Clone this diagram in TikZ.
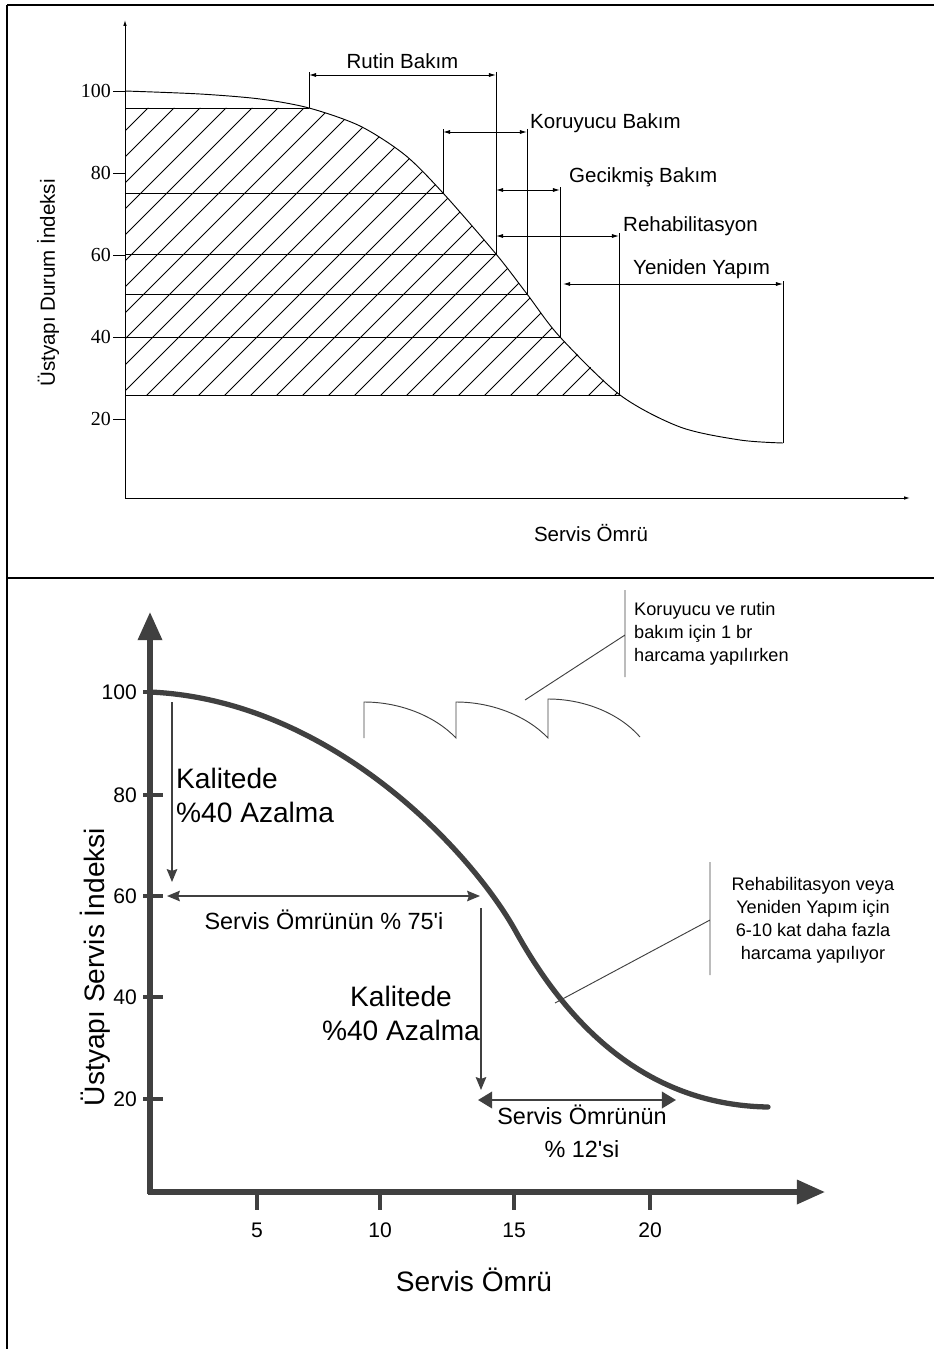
\documentclass[tikz,border=0pt]{standalone}
\usepackage{fontspec}
\setmainfont{Liberation Sans}
\newfontfamily\timesnum{Liberation Serif}
\usetikzlibrary{
	arrows.meta,
	positioning
}
\definecolor{plotgray}{HTML}{404040}

\begin{document}
\begin{tikzpicture}[x=0.03cm,y=-0.03cm,
		frame/.style={line width=2pt},
		thin/.style={line width=0.8pt},
		dim/.style={thin,{Latex[length=6pt,width=3.5pt]}-{Latex[length=6pt,width=3.5pt]}},
		toplabel/.style={font=\fontsize{17.5}{21}\selectfont,inner sep=0pt},
		topnum/.style={font=\timesnum\fontsize{17}{20}\selectfont,inner sep=0pt,anchor=east},
		bigaxis/.style={plotgray,line width=4.5pt,-{Triangle[length=24pt,width=20pt]}},
		tick/.style={plotgray,line width=3.5pt},
		ticklabel/.style={font=\fontsize{18}{21}\selectfont,inner sep=0pt},
		note/.style={plotgray,line width=1.2pt,-{Stealth[length=11pt,width=9pt,inset=1.5pt]}},
		twonote/.style={note,{Stealth[length=11pt,width=9pt,inset=1.5pt]}-{Stealth[length=11pt,width=9pt,inset=1.5pt]}},
		bigtext/.style={font=\fontsize{24}{29}\selectfont,inner sep=0pt},
		midtext/.style={font=\fontsize{20}{24}\selectfont,inner sep=0pt},
		callout/.style={font=\fontsize{15.5}{19.6}\selectfont,inner sep=0pt}
	]
	\useasboundingbox (0,0) rectangle (934,1349);
	\draw[frame] (7,5) -- (934,5);
	\draw[line width=1.2pt] (7,5) -- (7,1349);
	\draw[frame] (7,578) -- (934,578);

	% upper chart
	\begin{scope}
		\clip (125,108) -- plot[smooth] coordinates {(309,108) (360,126) (405,155) (443,193) (496,254) (527,294) (560,337) (620,395)} -- (125,395) -- cycle;
		\foreach \a in {-170,-144,...,640}
			\draw[thin] (\a,400) -- ++(300,-300);
	\end{scope}
	\draw[thin] plot[smooth] coordinates {(125,91) (200,94) (260,99) (309,108) (360,126) (405,155) (443,193) (496,254) (527,294) (560,337) (620,395) (680,427) (740,440) (783,443)};
	\foreach \y/\x in {108/309,193/443,254/496,294/527,337/560,395/620}
		\draw[thin] (125,\y) -- (\x,\y);
	\draw[thin,-{Latex[length=5pt,width=3pt]}] (125,498) -- (125,20);
	\draw[thin,-{Latex[length=5pt,width=3pt]}] (125,498) -- (910,498);
	\foreach \v/\y in {100/91,80/173,60/255,40/337,20/419} {
		\draw[thin] (113,\y) -- (125,\y);
		\node[topnum] (tn\v) at (111,\y) {\v};
	}
	\node[toplabel,rotate=90] (toplab) at (48,283) {Üstyapı Durum İndeksi};
	\node[toplabel] (topx) at (591,533) {Servis Ömrü};

	\draw[thin] (309,108) -- (309,72) (496,72) -- (496,254);
	\draw[dim] (309,75) -- node[toplabel,above=5pt] (rutin) {Rutin Bakım} (496,75);
	\draw[thin] (443,193) -- (443,129) (527,129) -- (527,294);
	\draw[dim] (443,132) -- (527,132);
	\node[toplabel,anchor=west] (koru) at (530,123) {Koruyucu Bakım};
	\draw[thin] (560,187) -- (560,337);
	\draw[dim] (496,190) -- (560,190);
	\node[toplabel,anchor=west] (gecik) at (569,177) {Gecikmiş Bakım};
	\draw[thin] (619,233) -- (619,395);
	\draw[dim] (496,236) -- (619,236);
	\node[toplabel,anchor=west] (rehab) at (623,226) {Rehabilitasyon};
	\draw[thin] (783,281) -- (783,443);
	\draw[dim] (563,284) -- (783,284);
	\node[toplabel,anchor=west] (yeni) at (633,269) {Yeniden Yapım};

	% lower chart
	\draw[bigaxis] (150,1194) -- (150,612);
	\draw[bigaxis] (148,1192) -- (825,1192);
	\foreach \v/\y in {100/692,80/795,60/896,40/997,20/1099} {
		\draw[tick] (143,\y) -- (163,\y);
		\node[ticklabel,anchor=east] (yt\v) at (137,\y) {\v};
	}
	\foreach \v/\x in {5/257,10/380,15/514,20/650} {
		\draw[tick] (\x,1192) -- (\x,1210);
		\node[ticklabel] (xt\v) at (\x,1230) {\v};
	}
	\node[bigtext,rotate=90] (botlab) at (95,967) {Üstyapı Servis İndeksi};
	\node[bigtext] (botx) at (474,1280) {Servis Ömrü};
	\draw[plotgray,line width=4.5pt,line cap=round] (150,692) .. controls (330,700) and (470,850) .. (515,930)
		.. controls (570,1030) and (650,1105) .. (768,1107);

	\draw[note] (172,702) -- (172,882);
	\node[bigtext,anchor=west,align=left] (kal1) at (176,795) {Kalitede\\\%40 Azalma};
	\draw[twonote] (167,896) -- (480,896);
	\node[midtext] (oran1) at (324,920) {Servis Ömrünün \% 75\textquotesingle i};
	\draw[note] (481,908) -- (481,1090);
	\node[bigtext,align=center] (kal2) at (401,1013) {Kalitede\\\%40 Azalma};
	\draw[twonote,line width=2pt,{Triangle[length=12pt,width=14pt]}-{Triangle[length=12pt,width=14pt]}] (478,1100) -- (676,1100);
	\node[midtext,align=center,font=\fontsize{20}{28}\selectfont] (oran2) at (582,1131) {Servis Ömrünün\\\% 12\textquotesingle si};

	\draw[thin,plotgray] (364,738) -- (364,702) .. controls (400,702) and (435,716) .. (456,738)
		-- (456,702) .. controls (492,702) and (527,716) .. (548,738)
		-- (548,699) .. controls (585,699) and (620,714) .. (640,737);
	\draw[thin,plotgray] (525,700) -- (625,635) (625,590) -- (625,677);
	\node[callout,anchor=west,align=left] (ucuz) at (634,634) {Koruyucu ve rutin\\bakım için 1 br\\harcama yapılırken};
	\draw[thin,plotgray] (555,1003) -- (710,920) (710,862) -- (710,975);
	\node[callout,align=center] (pahali) at (813,920) {Rehabilitasyon veya\\Yeniden Yapım için\\6-10 kat daha fazla\\harcama yapılıyor};
\end{tikzpicture}
\end{document}
